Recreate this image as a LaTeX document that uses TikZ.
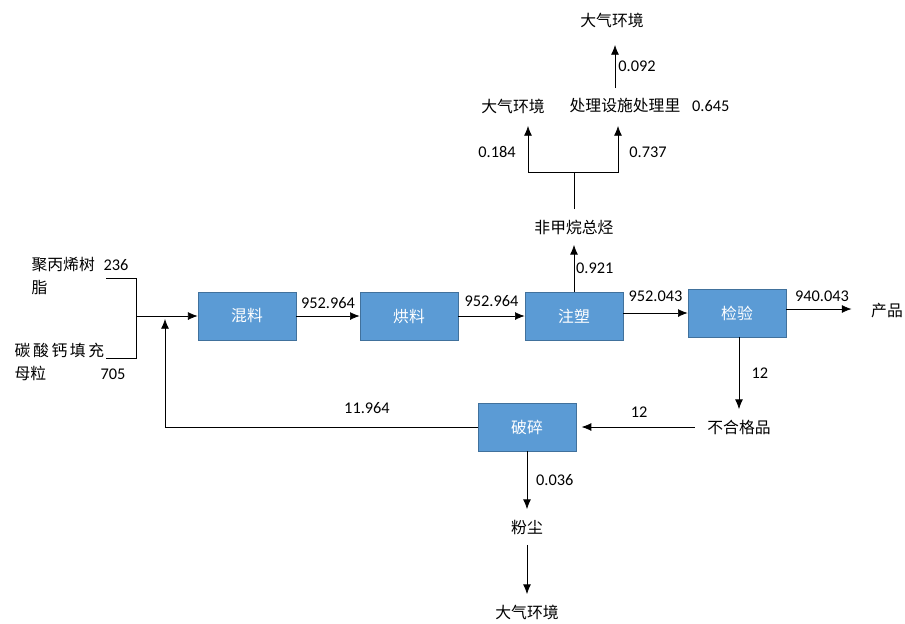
\documentclass[tikz,border=0pt]{standalone}
\usepackage{fontspec}
\setmainfont{Carlito}
\newfontfamily\cjk{Noto Sans CJK SC}
\usetikzlibrary{arrows.meta,calc,positioning}
\definecolor{boxblue}{HTML}{5B9BD5}
\definecolor{boxline}{HTML}{41719C}
\definecolor{flowline}{HTML}{3A3A3A}
\tikzset{
    -{Latex[length=5.5pt,width=4.5pt]},semithick,draw=flowline,x=0.02cm,y=-0.02cm,
    proc/.style ={rectangle, draw=boxline, fill=boxblue, text=white, font=\cjk\fontsize{9}{11}\selectfont, minimum width=1.96cm, minimum height=0.96cm},
    lbl/.style = {font=\cjk\fontsize{9}{13.5}\selectfont, text=black, inner ysep=0pt, inner xsep=3pt, minimum height=20pt},
    num/.style = {font=\fontsize{9.3}{11}\selectfont, text=black, inner sep=1pt}
}
\begin{document}
\begin{tikzpicture}
    \useasboundingbox (0,0) rectangle (905,623);
    % process boxes
    \node[proc] (hl) at (247,316) {混料};
    \node[proc] (hy) at (409,316) {烘料};
    \node[proc] (zs) at (574,316) {注塑};
    \node[proc] (jy) at (737,313) {检验};
    \node[proc] (ps) at (527,427) {破碎};

    % raw materials
    \node[lbl, align=left, anchor=west] (pp) at (26,276) {聚丙烯树\\脂};
    \node[lbl, align=left, anchor=west] (ca) at (9,362) {碳\,酸\,钙\,填\,充\\母粒};
    \node[num] (n236) at (116,265) {236};
    \node[num] (n705) at (113,374) {705};
    \coordinate (p1) at (106,278);
    \coordinate (p2) at (106,358);
    \coordinate (t1) at (136,278);
    \coordinate (t2) at (136,358);
    \coordinate (mix) at (136,316);
    \draw[-] (p1) -- (t1) -- (t2) -- (p2);
    \draw (mix) -- (hl);

    % main line
    \path (hl) edge node[num, above=3pt] (n1) {952.964} (hy);
    \path (hy) edge node[num, above=4pt] (n2) {952.964} (zs);
    \draw (zs.east |- jy) -- node[num, above=5pt] (n3) {952.043} (jy);
    \node[lbl] (cp) at (887,311) {产品};
    \draw[shorten >=8pt] (jy.east |- 0,309) -- node[num, above=3pt, pos=0.45] (n4) {940.043} (cp.west |- 0,309);

    % off-gas
    \node[lbl] (fjw) at (574,227) {非甲烷总烃};
    \draw (zs) -- node[num, right] (n5) {0.921} (fjw);
    \node[lbl] (dq1) at (513,106) {大气环境};
    \node[lbl] (cl) at (625,106) {处理设施处理里};
    \node[num, anchor=west] (n6) at (690,106) {0.645};
    \node[lbl] (dq2) at (612,20) {大气环境};
    \coordinate (br) at (574,172);
    \coordinate (a1) at (528,126);
    \coordinate (a2) at (618,126);
    \coordinate (a3) at (615,88);
    \coordinate (a4) at (615,45);
    \draw[-] (fjw) -- (br);
    \draw (br) -| (a1);
    \draw (br) -| (a2);
    \draw (a3) -- (a4);
    \node[num] (n7) at (497,152) {0.184};
    \node[num] (n8) at (648,152) {0.737};
    \node[num] (n9) at (637,66) {0.092};

    % rejects
    \node[lbl] (bhg) at (739,427) {不合格品};
    \draw (jy.south -| bhg) -- node[num, right, xshift=6pt] (n10) {12} (bhg);
    \draw[shorten <=4pt, shorten >=3pt] (bhg) -- node[num, above, yshift=4pt] (n11) {12} (ps);
    \coordinate (fb) at (165,319);
    \draw (ps.west) -| (fb);
    \node[num] (n12) at (367,408) {11.964};

    % dust
    \node[lbl] (fc) at (527,527) {粉尘};
    \node[lbl] (dq3) at (527,612) {大气环境};
    \draw (ps) -- node[num, right, xshift=4pt] (n13) {0.036} (fc);
    \draw (fc) -- (dq3);
\end{tikzpicture}
\end{document}
